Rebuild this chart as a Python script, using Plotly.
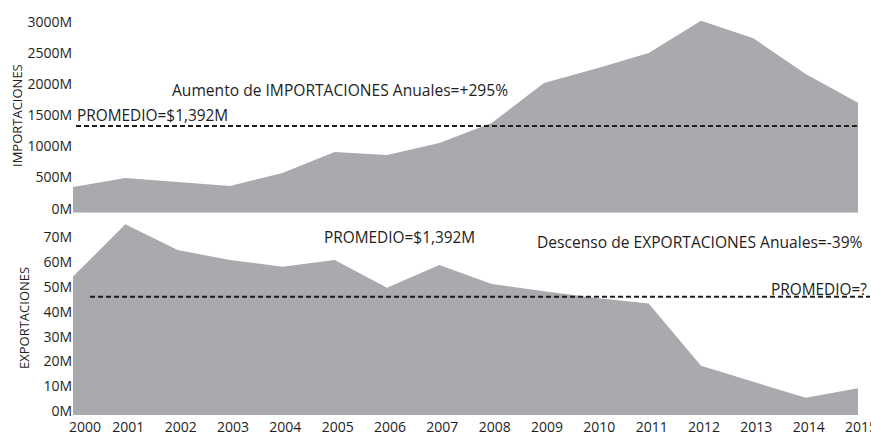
import plotly.graph_objects as go

# datos (millones de USD)
years = [2000, 2001, 2002, 2003, 2004, 2005, 2006, 2007,
         2008, 2009, 2010, 2011, 2012, 2013, 2014, 2015]
importaciones = [413, 558, 494, 429, 638, 976, 928, 1121,
                 1442, 2085, 2316, 2568, 3087, 2804, 2230, 1768]
exportaciones = [55.8, 76.9, 66.5, 62.5, 59.8, 62.5, 51.3, 60.5,
                 52.8, 49.9, 47.2, 45.0, 19.9, 13.4, 7.0, 10.8]
promedio_imp = 1392
promedio_exp = 47.7

imp_ticks = [0, 500, 1000, 1500, 2000, 2500, 3000]
exp_ticks = [0, 10, 20, 30, 40, 50, 60, 70]

GRAY = "rgb(169,170,174)"
INK = "#1e1e1e"
FONT = "Open Sans"

W, H = 871, 432
L, R, T, B = 73, 13, 0, 17
plot_w = W - L - R
plot_h = H - T - B


def px_x(px):
    return (px - L) / plot_w


def px_y(py):
    return (H - B - py) / plot_h


fig = go.Figure()
fig.add_trace(go.Scatter(x=years, y=importaciones, fill='tozeroy', mode='none',
                         fillcolor=GRAY, xaxis='x', yaxis='y', hoverinfo='skip'))
fig.add_trace(go.Scatter(x=years, y=exportaciones, fill='tozeroy', mode='none',
                         fillcolor=GRAY, xaxis='x2', yaxis='y2', hoverinfo='skip'))

dash = dict(color=INK, width=2, dash='5px,3px')
# promedio importaciones
fig.add_shape(type='line', xref='paper', yref='y', x0=px_x(76), x1=px_x(858),
              y0=promedio_imp, y1=promedio_imp, line=dash)
# promedio exportaciones
fig.add_shape(type='line', xref='paper', yref='y2', x0=px_x(90), x1=px_x(870),
              y0=promedio_exp, y1=promedio_exp, line=dash)

# el primer año va un poco corrido a la derecha en el original
year_labels = [str(y) for y in years]
year_labels[0] = "\u00a0" * 5 + year_labels[0]

axis_font = dict(family=FONT, size=14, color=INK)
fig.update_layout(
    width=W, height=H,
    margin=dict(l=L, r=R, t=T, b=B, autoexpand=False),
    paper_bgcolor='white', plot_bgcolor='white',
    showlegend=False,
    font=dict(family=FONT, color=INK),
    xaxis=dict(domain=[0, 1], range=[2000, 2015], showticklabels=False,
               showgrid=False, zeroline=False, showline=False, anchor='y',
               automargin=False),
    yaxis=dict(domain=[px_y(212.7), px_y(10.5)], range=[0, 3250],
               tickvals=imp_ticks, ticktext=[f"{v}M" for v in imp_ticks],
               showgrid=False, zeroline=False, showline=False,
               tickfont=axis_font, ticklabelshift=-4, anchor='x',
               automargin=False),
    xaxis2=dict(domain=[0, 1], range=[2000, 2015], tickvals=years,
                ticktext=year_labels, tickfont=axis_font,
                ticklabelshift=3, ticklabelstandoff=2, ticklabeloverflow='allow',
                showgrid=False, zeroline=False, showline=False, anchor='y2',
                automargin=False),
    yaxis2=dict(domain=[0, px_y(415 - 78 * 2.48)], range=[0, 78],
                tickvals=exp_ticks, ticktext=[f"{v}M" for v in exp_ticks],
                showgrid=False, zeroline=False, showline=False,
                tickfont=axis_font, ticklabelshift=-4, anchor='x2',
                automargin=False),
)

notes = [
    ("IMPORTACIONES", 17, 116, 'center', -90, 13),
    ("EXPORTACIONES", 24, 318, 'center', -90, 13),
    ("Aumento de IMPORTACIONES Anuales=+295%", 170, 90, 'left', 0, 15.6),
    ("PROMEDIO=$1,392M", 75, 115, 'left', 0, 15.4),
    ("PROMEDIO=$1,392M", 322, 237, 'left', 0, 15.4),
    ("Descenso de EXPORTACIONES Anuales=-39%", 865, 242, 'right', 0, 15.6),
    ("PROMEDIO=?", 869, 289, 'right', 0, 15.4),
]
for text, x, y, anchor, angle, size in notes:
    fig.add_annotation(text=text, xref='paper', yref='paper', x=px_x(x), y=px_y(y),
                       xanchor=anchor, yanchor='middle', textangle=angle,
                       showarrow=False, font=dict(family=FONT, size=size, color=INK))

# quitar el margen por defecto del body para que el grafico ocupe la ventana
fig.write_html("out.html", config={'displayModeBar': False},
               post_script="document.body.style.margin='0';")
